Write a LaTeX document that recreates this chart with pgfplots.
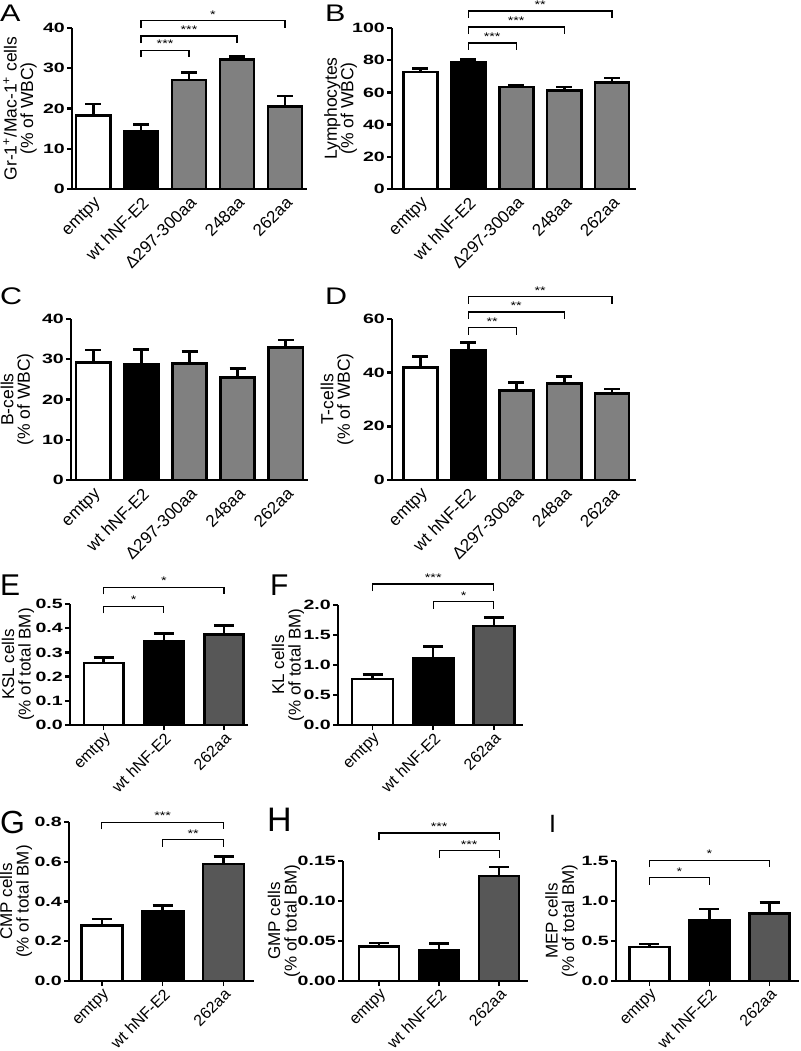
\documentclass[border=0pt]{standalone}
\usepackage{fontspec}
\setmainfont{Liberation Sans}
\newfontfamily\tickfont[FakeStretch=1.45]{Liberation Sans}
\newfontfamily\starfont[FakeStretch=1.3]{Liberation Sans}
\newfontfamily\letterfont[FakeStretch=1.27]{Liberation Sans}
\usepackage{pgfplots}
\pgfplotsset{compat=1.18}
\definecolor{mgray}{HTML}{808080}
\definecolor{dgray}{HTML}{575757}

\newcommand{\brk}[4]{%
  \draw[line width=1.2pt] ([yshift=-7pt]axis cs:#1,#3) -- (axis cs:#1,#3) -- (axis cs:#2,#3) -- ([yshift=-7pt]axis cs:#2,#3);
  \node[anchor=base, inner sep=0pt, yshift=2.5pt, font=\starfont\fontsize{11}{11}\selectfont] at (axis cs:{(#1+#2)/2},#3) {#4};
}

\pgfplotsset{
  panel/.style={
    scale only axis,
    axis x line=bottom, axis y line=left,
    axis line style={-, line width=2.8pt, black},
    every outer x axis line/.append style={-},
    every outer y axis line/.append style={-},
    ymin=0, clip=false,
    tick align=outside,
    major tick length=5pt,
    ytick style={line width=2.4pt, black},
    yticklabel style={font=\tickfont\bfseries\fontsize{13.5}{13.5}\selectfont, inner sep=2pt},
    ylabel style={align=center, anchor=center, inner sep=0pt,
      at={([xshift=-\pgfkeysvalueof{/pgfplots/ylabdist}]axis description cs:0,0.5)}},
  },
  ylabdist/.initial=54pt,
  five/.style={panel, xtick={0,1,2,3,4}, xtick style={draw=none},
    ylabel style={font=\fontsize{17.5}{16.5}\selectfont},
    xticklabel style={font=\fontsize{17}{17}\selectfont, rotate=45, anchor=north east, inner sep=1pt},
    xticklabels={emtpy, wt hNF-E2, Δ297-300aa, 248aa, 262aa}, bar width=0.71},
  three/.style={panel, xtick={0,1,2}, xtick style={line width=1.5pt, black},
    ylabel style={font=\fontsize{17}{16.5}\selectfont},
    xticklabel style={font=\fontsize{16}{16}\selectfont, rotate=45, anchor=north east, inner sep=1pt},
    xticklabels={emtpy, wt hNF-E2, 262aa}},
  b/.style={ybar, bar shift=0pt, draw=black, line width=2.8pt, fill=#1,
    error bars/y dir=plus, error bars/y explicit,
    error bars/error bar style={line width=2.8pt, black},
    error bars/error mark options={rotate=90, line width=2.8pt, mark size=8pt, black}},
  bs/.style={ybar, bar shift=0pt, draw=black, line width=2.5pt, fill=#1,
    error bars/y dir=plus, error bars/y explicit,
    error bars/error bar style={line width=2.5pt, black},
    error bars/error mark options={rotate=90, line width=2.5pt, mark size=10pt, black}},
}

\begin{document}
\begin{tikzpicture}
\path[use as bounding box] (0pt,0pt) rectangle (800pt,-1051pt);

% Panel letters
\node[anchor=north west, inner sep=0pt, font=\letterfont\fontsize{24}{24}\selectfont] at (0pt,-5pt) {A};
\node[anchor=north west, inner sep=0pt, font=\letterfont\fontsize{24}{24}\selectfont] at (325pt,-5pt) {B};
\node[anchor=north west, inner sep=0pt, font=\letterfont\fontsize{24}{24}\selectfont] at (0pt,-288pt) {C};
\node[anchor=north west, inner sep=0pt, font=\letterfont\fontsize{24}{24}\selectfont] at (325pt,-288pt) {D};
\node[anchor=north west, inner sep=0pt, font=\fontsize{30}{30}\selectfont] at (0pt,-575pt) {E};
\node[anchor=north west, inner sep=0pt, font=\fontsize{30}{30}\selectfont] at (270pt,-575pt) {F};
\node[anchor=north west, inner sep=0pt, font=\fontsize{32}{32}\selectfont] at (0pt,-811pt) {G};
\node[anchor=north west, inner sep=0pt, font=\fontsize{34}{34}\selectfont] at (267pt,-808pt) {H};
\node[anchor=north west, inner sep=0pt, font=\fontsize{25}{25}\selectfont] at (549pt,-815pt) {I};

% A
\begin{axis}[five, ylabdist=52pt, at={(72pt,-189pt)}, anchor=south west, width=235pt, height=161pt,
  xmin=-0.44, xmax=4.46, ymax=40, ytick={0,10,20,30,40}, yticklabels={0,10,20,30,40},
  ylabel={Gr-1\textsuperscript{+}/Mac-1\textsuperscript{+} cells\\(\% of WBC)}]
\addplot[b=white] coordinates {(0,18.2) +- (0,2.9)};
\addplot[b=black] coordinates {(1,14.4) +- (0,1.7)};
\addplot[b=mgray] coordinates {(2,27.1) +- (0,1.9)};
\addplot[b=mgray] coordinates {(3,32.1) +- (0,0.9)};
\addplot[b=mgray] coordinates {(4,20.4) +- (0,2.7)};
\brk{1}{2}{34.5}{***}
\brk{1}{3}{38}{***}
\brk{1}{4}{41.8}{*}
\end{axis}

% B
\begin{axis}[five, ylabdist=51.5pt, at={(392pt,-189pt)}, anchor=south west, width=244pt, height=161pt,
  xmin=-0.59, xmax=4.5, ymax=100, ytick={0,20,40,60,80,100}, yticklabels={0,20,40,60,80,100},
  ylabel={Lymphocytes\\(\% of WBC)}]
\addplot[b=white] coordinates {(0,72.7) +- (0,2.3)};
\addplot[b=black] coordinates {(1,78.9) +- (0,1.6)};
\addplot[b=mgray] coordinates {(2,63.4) +- (0,1.2)};
\addplot[b=mgray] coordinates {(3,61.0) +- (0,2.4)};
\addplot[b=mgray] coordinates {(4,66.0) +- (0,3.0)};
\brk{1}{2}{90.7}{***}
\brk{1}{3}{100.6}{***}
\brk{1}{4}{110.6}{**}
\end{axis}

% C
\begin{axis}[five, ylabdist=54pt, at={(71pt,-480pt)}, anchor=south west, width=237pt, height=161pt,
  xmin=-0.46, xmax=4.46, ymax=40, ytick={0,10,20,30,40}, yticklabels={0,10,20,30,40},
  ylabel={B-cells\\(\% of WBC)}]
\addplot[b=white] coordinates {(0,29.1) +- (0,3.2)};
\addplot[b=black] coordinates {(1,28.8) +- (0,3.7)};
\addplot[b=mgray] coordinates {(2,28.9) +- (0,3.0)};
\addplot[b=mgray] coordinates {(3,25.5) +- (0,2.2)};
\addplot[b=mgray] coordinates {(4,33.0) +- (0,1.8)};
\end{axis}

% D
\begin{axis}[five, ylabdist=55pt, at={(392pt,-480pt)}, anchor=south west, width=244pt, height=161pt,
  xmin=-0.59, xmax=4.5, ymax=60, ytick={0,20,40,60}, yticklabels={0,20,40,60},
  ylabel={T-cells\\(\% of WBC)}]
\addplot[b=white] coordinates {(0,42.0) +- (0,4.1)};
\addplot[b=black] coordinates {(1,48.3) +- (0,2.9)};
\addplot[b=mgray] coordinates {(2,33.5) +- (0,2.9)};
\addplot[b=mgray] coordinates {(3,36.0) +- (0,2.5)};
\addplot[b=mgray] coordinates {(4,32.3) +- (0,1.6)};
\brk{1}{2}{56.8}{**}
\brk{1}{3}{62.6}{**}
\brk{1}{4}{68.3}{**}
\end{axis}

% E
\begin{axis}[three, ylabdist=52pt, at={(70pt,-725pt)}, anchor=south west, width=178pt, height=121pt,
  xmin=-0.56, xmax=2.4, ymax=0.5, bar width=0.655,
  ytick={0,0.1,0.2,0.3,0.4,0.5}, yticklabels={0.0,0.1,0.2,0.3,0.4,0.5},
  ylabel={KSL cells\\(\% of total BM)}]
\addplot[bs=white] coordinates {(0,0.256) +- (0,0.022)};
\addplot[bs=black] coordinates {(1,0.348) +- (0,0.030)};
\addplot[bs=dgray] coordinates {(2,0.373) +- (0,0.038)};
\brk{0}{1}{0.49}{*}
\brk{0}{2}{0.569}{*}
\end{axis}

% F
\begin{axis}[three, ylabdist=50pt, at={(338pt,-725pt)}, anchor=south west, width=185pt, height=120pt,
  xmin=-0.57, xmax=2.48, ymax=2, bar width=0.675,
  ytick={0,0.5,1,1.5,2}, yticklabels={0.0,0.5,1.0,1.5,2.0},
  ylabel={KL cells\\(\% of total BM)}]
\addplot[bs=white] coordinates {(0,0.767) +- (0,0.078)};
\addplot[bs=black] coordinates {(1,1.12) +- (0,0.185)};
\addplot[bs=dgray] coordinates {(2,1.65) +- (0,0.14)};
\brk{0}{2}{2.35}{***}
\brk{1}{2}{2.055}{*}
\end{axis}

% G
\begin{axis}[three, ylabdist=53pt, at={(69pt,-981pt)}, anchor=south west, width=185pt, height=159pt,
  xmin=-0.54, xmax=2.5, ymax=0.8, bar width=0.675,
  ytick={0,0.2,0.4,0.6,0.8}, yticklabels={0.0,0.2,0.4,0.6,0.8},
  ylabel={CMP cells\\(\% of total BM)}]
\addplot[bs=white] coordinates {(0,0.280) +- (0,0.032)};
\addplot[bs=black] coordinates {(1,0.349) +- (0,0.031)};
\addplot[bs=dgray] coordinates {(2,0.589) +- (0,0.038)};
\brk{0}{2}{0.798}{***}
\brk{1}{2}{0.711}{**}
\end{axis}

% H
\begin{axis}[three, ylabdist=59pt, at={(343pt,-981pt)}, anchor=south west, width=185pt, height=120pt,
  xmin=-0.6, xmax=2.48, ymax=0.15, bar width=0.667,
  ytick={0,0.05,0.1,0.15}, yticklabels={0.00,0.05,0.10,0.15},
  ylabel={GMP cells\\(\% of total BM)}]
\addplot[bs=white] coordinates {(0,0.0434) +- (0,0.0041)};
\addplot[bs=black] coordinates {(1,0.0383) +- (0,0.0084)};
\addplot[bs=dgray] coordinates {(2,0.131) +- (0,0.0115)};
\brk{0}{2}{0.185}{***}
\brk{1}{2}{0.163}{***}
\end{axis}

% I
\begin{axis}[three, ylabdist=54.5pt, at={(616pt,-981pt)}, anchor=south west, width=183pt, height=120pt,
  xmin=-0.555, xmax=2.49, ymax=1.5, bar width=0.667,
  ytick={0,0.5,1,1.5}, yticklabels={0.0,0.5,1.0,1.5},
  ylabel={MEP cells\\(\% of total BM)}]
\addplot[bs=white] coordinates {(0,0.425) +- (0,0.037)};
\addplot[bs=black] coordinates {(1,0.763) +- (0,0.137)};
\addplot[bs=dgray] coordinates {(2,0.842) +- (0,0.138)};
\brk{0}{1}{1.29}{*}
\brk{0}{2}{1.51}{*}
\end{axis}
\end{tikzpicture}
\end{document}
